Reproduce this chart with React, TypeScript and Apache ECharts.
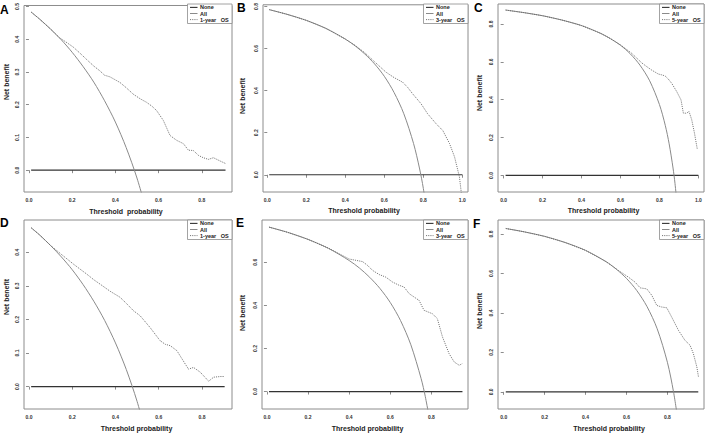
import React, { useEffect, useRef } from "react";
import * as echarts from "echarts";

const FONT = '"Liberation Sans", Arial, Helvetica, sans-serif';

// ---------- Panel A : 1-year OS (training) ----------
const allA_x = [0.01, 0.05, 0.1, 0.15, 0.2, 0.25, 0.3, 0.35, 0.4, 0.45, 0.5, 0.55];
const allA_y = [0.483, 0.461, 0.431, 0.398, 0.36, 0.317, 0.269, 0.212, 0.147, 0.069, -0.024, -0.138];
const modelA_x = [0.01, 0.05, 0.1, 0.14, 0.17, 0.205, 0.24, 0.267, 0.3, 0.329, 0.35, 0.375, 0.421, 0.45, 0.483, 0.515, 0.545, 0.57, 0.591, 0.622, 0.653, 0.684, 0.715, 0.738, 0.761, 0.785, 0.807, 0.831, 0.854, 0.885, 0.911];
const modelA_y = [0.483, 0.461, 0.431, 0.405, 0.392, 0.376, 0.355, 0.338, 0.318, 0.303, 0.29, 0.285, 0.268, 0.252, 0.232, 0.218, 0.207, 0.195, 0.182, 0.152, 0.106, 0.091, 0.081, 0.061, 0.06, 0.045, 0.038, 0.033, 0.038, 0.028, 0.02];
const noneA_x = [0.01, 0.91];

// ---------- Panel B : 3-year OS (training) ----------
const allB_x = [0.01, 0.1, 0.2, 0.3, 0.4, 0.45, 0.5, 0.55, 0.6, 0.65, 0.7, 0.75, 0.78, 0.8, 0.83];
const allB_y = [0.785, 0.763, 0.734, 0.696, 0.645, 0.613, 0.574, 0.527, 0.468, 0.391, 0.29, 0.148, 0.032, -0.065, -0.253];
const modelB_x = [0.01, 0.1, 0.2, 0.3, 0.4, 0.45, 0.5, 0.55, 0.608, 0.65, 0.694, 0.72, 0.745, 0.788, 0.822, 0.865, 0.9, 0.934, 0.96, 0.985, 0.994, 1.0];
const modelB_y = [0.785, 0.763, 0.734, 0.696, 0.645, 0.615, 0.58, 0.537, 0.488, 0.462, 0.44, 0.415, 0.385, 0.338, 0.29, 0.243, 0.21, 0.149, 0.085, -0.01, -0.08, -0.15];
const noneB_x = [0.01, 1.0];

// ---------- Panel C : 5-year OS (training) ----------
const allC_x = [0.01, 0.1, 0.2, 0.3, 0.4, 0.5, 0.55, 0.6, 0.65, 0.7, 0.75, 0.8, 0.83, 0.85, 0.87, 0.88, 0.9];
const allC_y = [0.874, 0.861, 0.844, 0.821, 0.792, 0.75, 0.722, 0.688, 0.643, 0.583, 0.5, 0.375, 0.265, 0.167, 0.039, -0.042, -0.25];
const modelC_x = [0.01, 0.1, 0.2, 0.3, 0.4, 0.5, 0.55, 0.6, 0.658, 0.709, 0.735, 0.76, 0.794, 0.81, 0.829, 0.845, 0.863, 0.889, 0.911, 0.923, 0.94, 0.952, 0.966, 0.98, 0.995];
const modelC_y = [0.874, 0.861, 0.844, 0.821, 0.792, 0.75, 0.722, 0.69, 0.645, 0.595, 0.575, 0.557, 0.536, 0.532, 0.526, 0.51, 0.487, 0.443, 0.399, 0.329, 0.329, 0.338, 0.294, 0.224, 0.136];
const noneC_x = [0.01, 1.0];

// ---------- Panel D : 1-year OS (validation) ----------
const allD_x = [0.01, 0.05, 0.1, 0.15, 0.2, 0.25, 0.3, 0.35, 0.4, 0.45, 0.5, 0.55];
const allD_y = [0.473, 0.451, 0.42, 0.386, 0.348, 0.304, 0.254, 0.197, 0.13, 0.051, -0.044, -0.16];
const modelD_x = [0.01, 0.05, 0.1, 0.151, 0.18, 0.205, 0.24, 0.267, 0.3, 0.329, 0.375, 0.421, 0.45, 0.483, 0.514, 0.56, 0.606, 0.63, 0.653, 0.684, 0.723, 0.738, 0.761, 0.792, 0.831, 0.854, 0.885, 0.905];
const modelD_y = [0.473, 0.451, 0.42, 0.393, 0.378, 0.365, 0.348, 0.335, 0.318, 0.305, 0.284, 0.266, 0.248, 0.226, 0.211, 0.176, 0.137, 0.126, 0.122, 0.107, 0.067, 0.052, 0.057, 0.043, 0.016, 0.028, 0.03, 0.03];
const noneD_x = [0.01, 0.905];

// ---------- Panel E : 3-year OS (validation) ----------
const allE_x = [0.01, 0.1, 0.2, 0.3, 0.4, 0.45, 0.5, 0.55, 0.6, 0.65, 0.7, 0.75, 0.77, 0.8];
const allE_y = [0.763, 0.739, 0.706, 0.664, 0.608, 0.573, 0.53, 0.478, 0.413, 0.329, 0.217, 0.06, -0.022, -0.175];
const modelE_x = [0.01, 0.1, 0.2, 0.3, 0.35, 0.4, 0.465, 0.49, 0.514, 0.546, 0.578, 0.611, 0.643, 0.667, 0.692, 0.74, 0.764, 0.805, 0.829, 0.854, 0.886, 0.911, 0.935, 0.951];
const modelE_y = [0.763, 0.739, 0.706, 0.665, 0.64, 0.615, 0.603, 0.585, 0.562, 0.543, 0.531, 0.508, 0.493, 0.485, 0.454, 0.423, 0.377, 0.361, 0.338, 0.253, 0.176, 0.137, 0.122, 0.13];
const noneE_x = [0.01, 0.951];

// ---------- Panel F : 5-year OS (validation) ----------
const allF_x = [0.01, 0.1, 0.2, 0.3, 0.4, 0.5, 0.55, 0.6, 0.65, 0.7, 0.75, 0.8, 0.83, 0.85];
const allF_y = [0.828, 0.811, 0.788, 0.757, 0.717, 0.66, 0.622, 0.575, 0.514, 0.433, 0.32, 0.15, 0.0, -0.133];
const modelF_x = [0.01, 0.1, 0.2, 0.3, 0.4, 0.5, 0.561, 0.61, 0.642, 0.667, 0.699, 0.724, 0.748, 0.772, 0.797, 0.821, 0.854, 0.886, 0.911, 0.927, 0.944, 0.952];
const modelF_y = [0.828, 0.811, 0.788, 0.757, 0.717, 0.66, 0.615, 0.581, 0.556, 0.527, 0.522, 0.489, 0.438, 0.43, 0.426, 0.379, 0.312, 0.261, 0.236, 0.194, 0.126, 0.076];
const noneF_x = [0.01, 0.951];

// tick labels
const xTicks08 = [0, 0.2, 0.4, 0.6, 0.8];
const xTicks10 = [0, 0.2, 0.4, 0.6, 0.8, 1.0];
const yTicks05 = [0, 0.1, 0.2, 0.3, 0.4, 0.5];
const yTicks04 = [0, 0.1, 0.2, 0.3, 0.4];
const yTicks08 = [0, 0.2, 0.4, 0.6, 0.8];
const yTicks06 = [0, 0.2, 0.4, 0.6];

const legendNames = ["None", "All"];
const modelNames = ["1-year   OS", "3-year   OS", "5-year   OS", "1-year   OS", "3-year   OS", "5-year   OS"];
const panelLetters = ["A", "B", "C", "D", "E", "F"];
const xTitles = ["Threshold  probability", "Threshold probability", "Threshold probability", "Threshold probability", "Threshold probability", "Threshold probability"];

const zip = (xs: number[], ys: number[]) => xs.map((x, i) => [x, ys[i]]);

const panels = [
  { grid: { left: 24, top: 4, width: 208, height: 188 }, xr: [-0.023, 0.94], yr: [-0.0667, 0.503], xt: xTicks08, yt: yTicks05, all: zip(allA_x, allA_y), model: zip(modelA_x, modelA_y), none: noneA_x, letter: [0, 4], yTitle: [6, 82], xTitle: [126, 211.5] },
  { grid: { left: 263, top: 4, width: 205, height: 188 }, xr: [-0.022, 1.029], yr: [-0.082, 0.808], xt: xTicks10, yt: yTicks08, all: zip(allB_x, allB_y), model: zip(modelB_x, modelB_y), none: noneB_x, letter: [237, 2], yTitle: [242, 96], xTitle: [364, 210.7] },
  { grid: { left: 498, top: 4, width: 206, height: 188 }, xr: [-0.029, 1.029], yr: [-0.0876, 0.906], xt: xTicks10, yt: yTicks08, all: zip(allC_x, allC_y), model: zip(modelC_x, modelC_y), none: noneC_x, letter: [474, 2], yTitle: [479, 93], xTitle: [603.5, 210.7] },
  { grid: { left: 24, top: 220, width: 208, height: 189 }, xr: [-0.023, 0.939], yr: [-0.0667, 0.496], xt: xTicks08, yt: yTicks04, all: zip(allD_x, allD_y), model: zip(modelD_x, modelD_y), none: noneD_x, letter: [0, 217], yTitle: [6, 297], xTitle: [136.5, 428.7] },
  { grid: { left: 262, top: 220, width: 206, height: 189 }, xr: [-0.024, 0.978], yr: [-0.081, 0.796], xt: xTicks08, yt: yTicks06, all: zip(allE_x, allE_y), model: zip(modelE_x, modelE_y), none: noneE_x, letter: [236, 217], yTitle: [242, 313], xTitle: [367.5, 428.7] },
  { grid: { left: 498, top: 220, width: 206, height: 189 }, xr: [-0.028, 0.979], yr: [-0.087, 0.871], xt: xTicks08, yt: yTicks08, all: zip(allF_x, allF_y), model: zip(modelF_x, modelF_y), none: noneF_x, letter: [473, 218], yTitle: [479, 311], xTitle: [609, 428.7] },
];

const NONE_COLOR = "#333333";
const ALL_COLOR = "#8a8a8a";
const MODEL_COLOR = "#666666";
const FRAME_COLOR = "#8c8c8c";

export default function App() {
  const ref = useRef<HTMLDivElement>(null);

  useEffect(() => {
    document.body.style.margin = "0";
    if (!ref.current) return;
    const chart = echarts.init(ref.current, undefined, { renderer: "svg" });

    const grids: any[] = [];
    const xAxes: any[] = [];
    const yAxes: any[] = [];
    const series: any[] = [];
    const graphics: any[] = [];

    panels.forEach((p, i) => {
      grids.push({
        ...p.grid,
        show: true,
        borderColor: FRAME_COLOR,
        borderWidth: 1,
        backgroundColor: "transparent",
        containLabel: false,
      });
      xAxes.push({
        type: "value",
        gridIndex: i,
        min: p.xr[0],
        max: p.xr[1],
        axisLine: { show: false },
        splitLine: { show: false },
        axisTick: { show: true, customValues: p.xt, length: 3, lineStyle: { color: FRAME_COLOR, width: 1 } },
        axisLabel: {
          show: true,
          customValues: p.xt,
          formatter: (v: number) => v.toFixed(1),
          fontSize: 5,
          fontWeight: "bold",
          fontFamily: FONT,
          color: "#333",
          margin: 5,
        },
      });
      yAxes.push({
        type: "value",
        gridIndex: i,
        min: p.yr[0],
        max: p.yr[1],
        axisLine: { show: false },
        splitLine: { show: false },
        axisTick: { show: true, customValues: p.yt, length: 3, lineStyle: { color: FRAME_COLOR, width: 1 } },
        axisLabel: {
          show: true,
          customValues: p.yt,
          formatter: (v: number) => v.toFixed(1),
          fontSize: 5,
          fontWeight: "bold",
          fontFamily: FONT,
          color: "#333",
          rotate: 90,
          margin: 5,
        },
      });

      series.push({
        name: legendNames[0],
        type: "line",
        xAxisIndex: i,
        yAxisIndex: i,
        data: p.none.map((x) => [x, 0]),
        showSymbol: false,
        symbol: "none",
        lineStyle: { color: NONE_COLOR, width: 1.2 },
        clip: true,
      });
      series.push({
        name: legendNames[1],
        type: "line",
        xAxisIndex: i,
        yAxisIndex: i,
        data: p.all,
        smooth: 0.3,
        showSymbol: false,
        symbol: "none",
        lineStyle: { color: ALL_COLOR, width: 1 },
        clip: true,
      });
      series.push({
        name: modelNames[i],
        type: "line",
        xAxisIndex: i,
        yAxisIndex: i,
        data: p.model,
        showSymbol: false,
        symbol: "none",
        lineStyle: { color: MODEL_COLOR, width: 0.9, type: [1.1, 1.1] },
        clip: true,
      });

      // legend box (top-right of each panel)
      const right = p.grid.left + p.grid.width;
      const lx = right - 44.5;
      const ly = p.grid.top;
      graphics.push({
        type: "rect",
        shape: { x: lx, y: ly, width: 44.5, height: 19.5 },
        style: { fill: "#fff", stroke: FRAME_COLOR, lineWidth: 0.8 },
        z: 10,
      });
      const rows = [
        { name: legendNames[0], color: NONE_COLOR, dash: null, w: 1.1 },
        { name: legendNames[1], color: ALL_COLOR, dash: null, w: 1 },
        { name: modelNames[i], color: MODEL_COLOR, dash: [1.1, 1.1], w: 0.9 },
      ];
      rows.forEach((r, k) => {
        const yy = ly + 3.4 + k * 6.1;
        graphics.push({
          type: "line",
          shape: { x1: lx + 2.5, y1: yy, x2: lx + 10, y2: yy },
          style: { stroke: r.color, lineWidth: r.w, lineDash: r.dash || undefined },
          z: 11,
        });
        graphics.push({
          type: "text",
          x: lx + 12.5,
          y: yy,
          style: {
            text: r.name,
            fontSize: 5.5,
            fontWeight: "bold",
            fontFamily: FONT,
            fill: "#222",
            align: "left",
            verticalAlign: "middle",
          },
          z: 11,
        });
      });

      // panel letter
      graphics.push({
        type: "text",
        x: p.letter[0],
        y: p.letter[1],
        style: {
          text: panelLetters[i],
          fontSize: 12,
          fontWeight: "bold",
          fontFamily: FONT,
          fill: "#000",
          align: "left",
          verticalAlign: "top",
        },
        z: 12,
      });
      // y axis title
      graphics.push({
        type: "text",
        x: p.yTitle[0],
        y: p.yTitle[1],
        rotation: Math.PI / 2,
        style: {
          text: "Net benefit",
          fontSize: 7,
          fontWeight: "bold",
          fontFamily: FONT,
          fill: "#222",
          align: "center",
          verticalAlign: "middle",
        },
      });
      // x axis title
      graphics.push({
        type: "text",
        x: p.xTitle[0],
        y: p.xTitle[1],
        style: {
          text: xTitles[i],
          fontSize: 7,
          fontWeight: "bold",
          fontFamily: FONT,
          fill: "#222",
          align: "center",
          verticalAlign: "middle",
        },
      });
    });

    chart.setOption({
      animation: false,
      backgroundColor: "#fff",
      grid: grids,
      xAxis: xAxes,
      yAxis: yAxes,
      series,
      graphic: graphics,
    });

    return () => chart.dispose();
  }, []);

  return <div ref={ref} style={{ width: 708, height: 434 }} />;
}
